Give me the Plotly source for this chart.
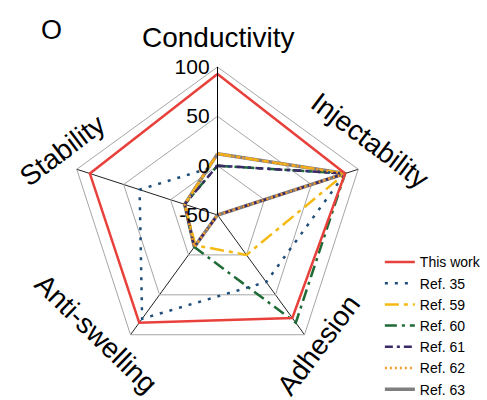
import plotly.graph_objects as go

# Radar axes (clockwise from top)
categories = ["Conductivity", "Injectability", "Adhesion", "Anti-swelling", "Stability"]

# Scores per material on each axis
this_work = [93, 86, 79, 85, 86]
ref_35 = [0, 86, 34, 80, 33]
ref_59 = [12, 86, 0, -12, -15]
ref_60 = [0, 86, 85, -10, -15]
ref_61 = [0, 86, -50, -10, -15]
ref_62 = [12, 86, -50, -10, -15]
ref_63 = [12, 86, -50, -10, -15]

radial_ticks = [-50, 0, 50, 100]

# name, values, colour, dash, width, legend rank (drawing order = list order)
series = [
    ("Ref. 63", ref_63, "#7f7f7f", "solid", 3.5, 7),
    ("Ref. 60", ref_60, "#1f6b36", "12px,5px,3px,5px", 2.5, 4),
    ("Ref. 59", ref_59, "#f5b914", "14px,5px,4px,5px", 2.5, 3),
    ("Ref. 35", ref_35, "#1f4e79", "3px,7px", 2.5, 2),
    ("Ref. 61", ref_61, "#3b2a66", "8px,4px,3px,4px", 2.5, 5),
    ("Ref. 62", ref_62, "#f39a2a", "2px,3px", 2.5, 6),
    ("This work", this_work, "#e8413c", "solid", 2.5, 1),
]

fig = go.Figure()
for name, vals, color, dash, width, rank in series:
    fig.add_trace(go.Scatterpolar(
        r=vals + vals[:1],
        theta=categories + categories[:1],
        mode="lines",
        name=name,
        legendrank=rank,
        line=dict(color=color, dash=dash, width=width),
    ))

W, H = 487, 400
cx, cy, R = 217.5, 215, 148

fig.update_layout(
    width=W, height=H,
    margin=dict(l=0, r=0, t=0, b=0, autoexpand=False),
    paper_bgcolor="white",
    plot_bgcolor="white",
    font=dict(family="Arial, Liberation Sans, sans-serif", color="black"),
    polar=dict(
        domain=dict(x=[(cx - R) / W, (cx + R) / W],
                    y=[(H - cy - R) / H, (H - cy + R) / H]),
        bgcolor="white",
        gridshape="linear",
        radialaxis=dict(
            range=[-50, 100],
            tickvals=radial_ticks,
            ticktext=[str(v) for v in radial_ticks],
            angle=90,
            tickangle=90,
            side="counterclockwise",
            showline=True,
            linecolor="black",
            linewidth=1,
            gridcolor="#a6a6a6",
            gridwidth=1,
            ticks="",
            tickfont=dict(size=21, color="black"),
        ),
        angularaxis=dict(
            direction="clockwise",
            rotation=90,
            showticklabels=False,
            ticks="",
            showline=True,
            linecolor="#a6a6a6",
            linewidth=1,
            gridcolor="#222222",
            gridwidth=1,
        ),
    ),
    legend=dict(
        x=0.78, y=0.384, xanchor="left", yanchor="top",
        font=dict(size=14, color="black"),
        bgcolor="rgba(0,0,0,0)",
        tracegroupgap=0,
        itemwidth=30,
    ),
    showlegend=True,
)

# Axis titles placed around the pentagon
labels = [
    ("Conductivity", 218, 38, 0),
    ("Injectability", 370, 140, 37),
    ("Adhesion", 318, 345, -53),
    ("Anti-swelling", 96, 333, 44),
    ("Stability", 62, 150, -37),
]
for text, x, y, ang in labels:
    fig.add_annotation(
        text=text, x=x / W, y=1 - y / H, xref="paper", yref="paper",
        showarrow=False, textangle=ang, xanchor="center", yanchor="middle",
        font=dict(size=28, color="black"),
    )

fig.add_annotation(
    text="O", x=51 / W, y=1 - 30 / H, xref="paper", yref="paper",
    showarrow=False, xanchor="center", yanchor="middle",
    font=dict(size=27, color="black"),
)

fig.write_html("out.html")
